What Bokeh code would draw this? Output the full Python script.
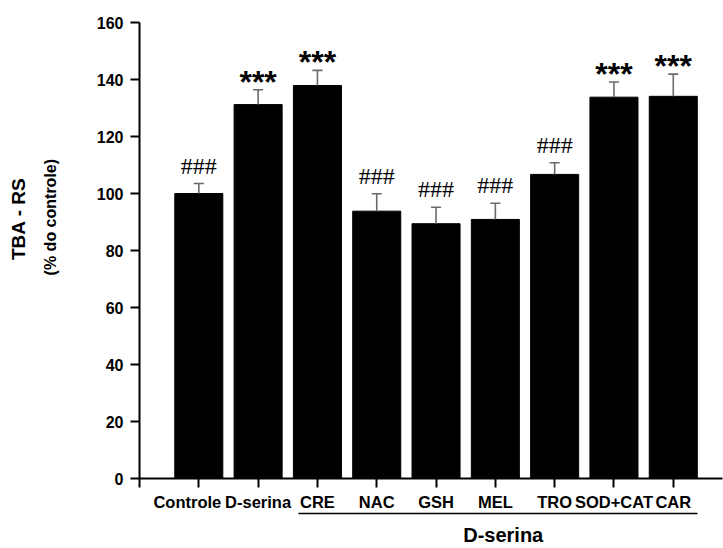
from bokeh.plotting import figure
from bokeh.models import FixedTicker, LinearAxis, ColumnDataSource, Range1d
from bokeh.core.properties import value
from bokeh.embed import file_html
from bokeh.resources import INLINE

# Groups, mean TBA-RS (% of control) and upper error (SEM)
groups = ["Controle", "D-serina", "CRE", "NAC", "GSH", "MEL", "TRO", "SOD+CAT", "CAR"]
means = [100.0, 131.2, 137.9, 93.8, 89.4, 90.9, 106.7, 133.8, 134.1]
errors = [3.5, 5.2, 5.3, 6.1, 5.8, 5.7, 4.1, 5.3, 7.8]
marks = ["###", "***", "***", "###", "###", "###", "###", "***", "***"]
y_ticks = [0, 20, 40, 60, 80, 100, 120, 140, 160]

FONT = "Liberation Sans"
NB = "\u00a0"

xs = list(range(1, len(groups) + 1))
tops = [m + e for m, e in zip(means, errors)]

p = figure(width=723, height=548, output_backend="svg", toolbar_location=None,
           x_range=Range1d(0, 9.83), y_range=Range1d(0, 160),
           min_border_left=139, min_border_right=1, min_border_top=22,
           min_border_bottom=70)
p.xaxis.visible = False
p.yaxis.visible = False
p.grid.visible = False
p.outline_line_color = None
p.background_fill_color = "white"
p.border_fill_color = "white"

src = ColumnDataSource(dict(x=xs, top=means, cap=tops))
p.vbar(x="x", top="top", bottom=0, width=0.81, source=src,
       fill_color="black", line_color="black")

# error bars: stem and cap
p.segment(x0="x", y0="top", x1="x", y1="cap", source=src,
          line_color="#6a6a6a", line_width=1.6)
cw = 0.085
p.segment(x0=[x - cw for x in xs], y0=tops, x1=[x + cw for x in xs], y1=tops,
          line_color="#6a6a6a", line_width=1.6)

# significance marks above each error bar
hx = [x for x, m in zip(xs, marks) if m == "###"]
hy = [t + 3.5 for t, m in zip(tops, marks) if m == "###"]
sx = [x for x, m in zip(xs, marks) if m == "***"]
sy = [t + 4.6 for t, m in zip(tops, marks) if m == "***"]
p.text(x=hx, y=hy, text=["###"] * len(hx), text_font=value("Liberation Serif"),
       text_font_size="24px", text_align="center", text_baseline="alphabetic",
       y_offset=-8, text_color="black")
p.text(x=sx, y=sy, text=["***"] * len(sx), text_font=value(FONT),
       text_font_size="32px", text_font_style="bold", text_align="center",
       text_baseline="alphabetic", y_offset=5, text_color="black")


def style_labels(ax):
    ax.major_label_text_font = FONT
    ax.major_label_text_font_style = "bold"
    ax.major_label_text_color = "black"
    ax.axis_label_text_font = FONT
    ax.axis_label_text_font_style = "bold"
    ax.axis_label_text_color = "black"


# y axis with the second line of its title
yax = LinearAxis(ticker=FixedTicker(ticks=y_ticks))
style_labels(yax)
yax.axis_line_width = 2
yax.major_tick_line_width = 2
yax.major_tick_out = 9
yax.major_tick_in = 0
yax.minor_tick_line_color = None
yax.major_label_text_font_size = "16px"
yax.major_label_standoff = 7
yax.axis_label = NB * 15 + "(% do controle)"
yax.axis_label_text_font_size = "16px"
yax.axis_label_standoff = 35
p.add_layout(yax, "left")

# first line of the y title, on a bare axis further left
tax = LinearAxis(ticker=FixedTicker(ticks=[]))
style_labels(tax)
tax.axis_line_color = None
tax.major_tick_line_color = None
tax.minor_tick_line_color = None
tax.major_label_text_font_size = "0px"
tax.axis_label = NB * 12 + "TBA - RS"
tax.axis_label_text_font_size = "19px"
tax.axis_label_standoff = 10
p.add_layout(tax, "left")

xax = LinearAxis(ticker=FixedTicker(ticks=[0] + xs))
style_labels(xax)
labels = list(groups)
labels[0] = labels[0] + NB * 5
xax.major_label_overrides = {0: ""} | {x: g for x, g in zip(xs, labels)}
xax.axis_line_width = 2
xax.major_tick_line_width = 2
xax.major_tick_out = 9
xax.major_tick_in = 0
xax.minor_tick_line_color = None
xax.major_label_text_font_size = "16.5px"
xax.major_label_standoff = 5
p.add_layout(xax, "below")

# bracket line under the D-serina treated groups, with its label
bax = LinearAxis(ticker=FixedTicker(ticks=[]), bounds=(2.68, 9.41))
style_labels(bax)
bax.axis_line_width = 1.5
bax.major_tick_line_color = None
bax.minor_tick_line_color = None
bax.major_label_text_font_size = "0px"
bax.axis_label = NB * 26 + "D-serina"
bax.axis_label_text_font_size = "20px"
bax.axis_label_standoff = 10
p.add_layout(bax, "below")

open("out.html", "w").write(file_html(p, INLINE))
